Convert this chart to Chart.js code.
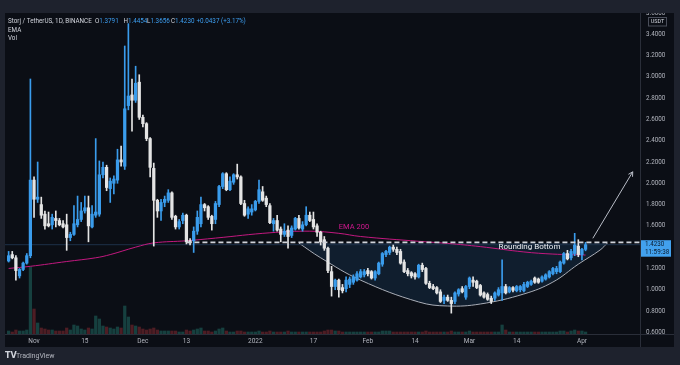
<!DOCTYPE html>
<html>
<head>
<meta charset="utf-8">
<script src="https://cdn.jsdelivr.net/npm/chart.js@4.4.1/dist/chart.umd.min.js"></script>
<style>
  html, body { margin: 0; padding: 0; background: #1e222d; }
  canvas { display: block; }
</style>
</head>
<body>
<canvas id="chart" width="680" height="365"></canvas>
<script>
// STORJ / USDT daily candles, 2021-10-25 .. 2022-04-02
var open = [
  1.27, 1.33, 1.30, 1.13, 1.19, 1.25, 1.32,
  2.03, 1.85, 1.80, 1.71, 1.62, 1.61, 1.67, 1.65, 1.62, 1.61, 1.49, 1.52, 1.61, 1.66, 1.74, 1.77, 1.59, 1.70, 1.71, 2.08,
  2.15, 1.95, 2.00, 2.03, 2.22, 2.16, 2.73, 2.83, 2.78, 2.95,
  2.62, 2.56, 2.42, 2.14, 1.84, 1.74, 1.82, 1.84, 1.91, 1.69, 1.59, 1.65, 1.70, 1.46, 1.46, 1.55, 1.62, 1.80, 1.78, 1.69,
  1.66, 1.80, 1.97, 2.09, 1.94, 2.01, 2.08, 2.06, 1.81, 1.71, 1.73,
  1.75, 1.83, 1.92, 1.86, 1.79, 1.62, 1.65, 1.57, 1.52, 1.56, 1.51, 1.57, 1.67, 1.57, 1.61, 1.70, 1.66, 1.60, 1.54, 1.47,
  1.39, 1.17, 1.03, 1.09, 1.02, 1.01, 1.05, 1.07, 1.09, 1.12, 1.14,
  1.18, 1.17, 1.11, 1.15, 1.24, 1.33, 1.35, 1.40, 1.38, 1.36, 1.26, 1.18, 1.16, 1.15, 1.12, 1.23, 1.20, 1.06, 1.03, 1.02,
  0.98, 0.90, 0.93, 0.90, 0.89, 0.96, 1.01, 0.93,
  1.03, 1.09, 1.08, 1.04, 0.97, 0.955, 0.92, 0.92, 0.95, 0.97, 1.03, 0.98, 1.02, 0.99, 1.00, 0.99, 1.03, 1.05, 1.11, 1.10,
  1.08, 1.10, 1.12, 1.15, 1.17, 1.17, 1.25, 1.34, 1.30, 1.34, 1.41,
  1.33, 1.3791
];
var high = [
  1.36, 1.36, 1.32, 1.20, 1.26, 1.34, 2.98,
  2.06, 2.20, 1.87, 1.74, 1.73, 1.71, 1.74, 1.67, 1.65, 1.71, 1.54, 1.79, 1.88, 1.82, 1.88, 1.88, 1.79, 2.42, 2.21, 2.20,
  2.17, 2.05, 2.07, 2.32, 2.35, 3.29, 3.50, 2.98, 3.10, 3.02,
  2.64, 2.57, 2.43, 2.19, 1.85, 1.85, 1.88, 1.94, 1.92, 1.70, 1.66, 1.72, 1.71, 1.48, 1.59, 1.74, 1.87, 1.81, 1.79, 1.70,
  1.83, 1.98, 2.10, 2.10, 2.06, 2.09, 2.18, 2.07, 1.84, 1.78, 1.80,
  1.84, 2.03, 1.97, 1.88, 1.81, 1.67, 1.70, 1.59, 1.62, 1.60, 1.60, 1.68, 1.70, 1.64, 1.78, 1.73, 1.73, 1.62, 1.55, 1.50,
  1.40, 1.22, 1.10, 1.10, 1.05, 1.12, 1.12, 1.14, 1.17, 1.19, 1.19,
  1.20, 1.18, 1.18, 1.26, 1.35, 1.37, 1.41, 1.42, 1.40, 1.38, 1.28, 1.20, 1.17, 1.16, 1.24, 1.25, 1.21, 1.08, 1.05, 1.03,
  1.00, 0.95, 0.95, 0.93, 0.98, 1.01, 1.03, 1.04,
  1.12, 1.12, 1.09, 1.05, 0.98, 0.97, 0.94, 0.98, 1.02, 1.28, 1.05, 1.03, 1.03, 1.04, 1.04, 1.07, 1.08, 1.09, 1.12, 1.11,
  1.13, 1.15, 1.18, 1.21, 1.22, 1.27, 1.35, 1.37, 1.38, 1.53, 1.47,
  1.39, 1.4454
];
var low = [
  1.26, 1.29, 1.09, 1.11, 1.18, 1.24, 1.30,
  1.68, 1.82, 1.67, 1.57, 1.59, 1.57, 1.59, 1.60, 1.58, 1.37, 1.46, 1.51, 1.59, 1.64, 1.72, 1.45, 1.58, 1.68, 1.69, 2.05,
  1.93, 1.82, 1.90, 2.00, 2.16, 2.13, 2.69, 2.49, 2.76, 2.60,
  2.53, 2.40, 2.06, 1.41, 1.68, 1.65, 1.78, 1.82, 1.66, 1.57, 1.57, 1.62, 1.43, 1.42, 1.35, 1.52, 1.59, 1.74, 1.66, 1.56,
  1.62, 1.78, 1.95, 1.93, 1.93, 1.99, 2.04, 1.80, 1.69, 1.67, 1.70,
  1.74, 1.81, 1.83, 1.78, 1.62, 1.55, 1.55, 1.45, 1.50, 1.39, 1.49, 1.56, 1.57, 1.55, 1.60, 1.64, 1.57, 1.50, 1.42, 1.37,
  1.16, 0.94, 1.00, 0.93, 0.97, 0.98, 1.02, 1.05, 1.08, 1.11, 1.12,
  1.13, 1.10, 1.09, 1.14, 1.22, 1.31, 1.33, 1.36, 1.33, 1.24, 1.16, 1.13, 1.11, 1.10, 1.11, 1.17, 1.05, 1.01, 1.00, 0.96,
  0.88, 0.87, 0.89, 0.78, 0.87, 0.94, 0.97, 0.91,
  1.01, 1.03, 1.01, 0.94, 0.92, 0.90, 0.87, 0.90, 0.94, 0.90, 0.96, 0.97, 0.98, 0.98, 0.98, 0.98, 1.02, 1.04, 1.06, 1.06,
  1.07, 1.09, 1.11, 1.14, 1.15, 1.16, 1.24, 1.28, 1.28, 1.32, 1.31,
  1.28, 1.3656
];
var close = [
  1.32, 1.30, 1.18, 1.19, 1.25, 1.32, 2.03,
  1.85, 1.87, 1.70, 1.60, 1.60, 1.68, 1.65, 1.61, 1.59, 1.49, 1.52, 1.62, 1.66, 1.74, 1.77, 1.60, 1.71, 1.73, 2.08, 2.15,
  1.96, 2.02, 2.04, 2.22, 2.20, 2.70, 2.82, 2.78, 2.94, 2.62,
  2.56, 2.42, 2.15, 1.84, 1.74, 1.82, 1.85, 1.91, 1.68, 1.59, 1.64, 1.70, 1.45, 1.44, 1.55, 1.68, 1.80, 1.77, 1.68, 1.62,
  1.81, 1.97, 2.09, 1.94, 2.02, 2.08, 2.06, 1.81, 1.70, 1.76, 1.76,
  1.83, 1.94, 1.84, 1.80, 1.63, 1.65, 1.56, 1.52, 1.55, 1.50, 1.58, 1.67, 1.58, 1.61, 1.70, 1.65, 1.59, 1.54, 1.45, 1.39,
  1.18, 1.03, 1.09, 1.00, 0.99, 1.09, 1.10, 1.12, 1.15, 1.17, 1.17,
  1.15, 1.11, 1.17, 1.25, 1.34, 1.36, 1.40, 1.38, 1.35, 1.25, 1.17, 1.15, 1.13, 1.12, 1.23, 1.19, 1.06, 1.02, 1.01, 0.97,
  0.89, 0.93, 0.90, 0.87, 0.97, 1.00, 0.98, 1.03,
  1.11, 1.07, 1.02, 0.95, 0.93, 0.91, 0.89, 0.97, 1.00, 1.03, 0.97, 1.02, 0.995, 1.03, 1.03, 1.05, 1.07, 1.08, 1.07, 1.07,
  1.12, 1.14, 1.17, 1.20, 1.20, 1.26, 1.34, 1.29, 1.36, 1.42, 1.33,
  1.3793, 1.4230
];
// volume, relative units (bar heights as seen)
var volume = [
  3, 2, 4, 3, 3, 4, 67,
  25, 11, 6, 5, 4, 4, 3, 3, 3, 6, 4, 9, 8, 5, 4, 6, 5, 18, 15, 8, 7, 6, 5, 7, 6, 28, 17, 9, 8, 7,
  5, 4, 5, 6, 4, 3, 3, 3, 3, 3, 2, 2, 4, 3, 4, 5, 6, 3, 3, 2, 3, 5, 6, 3, 2, 2, 3, 3, 2, 2, 2,
  2, 3, 2, 2, 3, 2, 2, 2, 2, 3, 2, 2, 2, 2, 2, 2, 2, 2, 2, 3, 4, 4, 3, 3, 2, 2, 2, 2, 2, 2, 2,
  2, 2, 2, 2, 3, 3, 3, 2, 2, 2, 2, 2, 2, 2, 2, 2, 3, 2, 2, 2, 2, 2, 2, 3, 2, 2, 2, 2,
  3, 2, 2, 2, 2, 2, 2, 2, 2, 9, 4, 2, 2, 2, 2, 2, 2, 2, 2, 2, 2, 2, 2, 2, 2, 3, 3, 2, 3, 4, 3,
  3, 2
];

// EMA 200 as read at a few dates
var emaDates = ['2021-10-25', '2021-10-31', '2021-11-10', '2021-11-18', '2021-11-22', '2021-11-29', '2021-12-04',
  '2021-12-13', '2021-12-21', '2022-01-05', '2022-01-16', '2022-01-24', '2022-01-30', '2022-02-15', '2022-02-23',
  '2022-03-04', '2022-03-16', '2022-03-24', '2022-04-02'];
var emaValues = [1.20, 1.22, 1.265, 1.30, 1.33, 1.40, 1.44, 1.46, 1.485, 1.535, 1.55, 1.53, 1.50, 1.455, 1.435,
  1.405, 1.355, 1.335, 1.326];

// drawn "rounding bottom" arc
var arcDates = ['2022-01-13', '2022-01-19', '2022-01-30', '2022-02-15', '2022-02-23', '2022-03-04', '2022-03-16',
  '2022-03-24', '2022-03-31', '2022-04-06', '2022-04-08'];
var arcValues = [1.438, 1.30, 1.09, 0.885, 0.847, 0.866, 0.96, 1.072, 1.24, 1.373, 1.438];
var arcTop = 1.438;

var necklineStart = '2021-12-13';
var necklineValue = 1.445;
var arrowDates = ['2022-04-04', '2022-04-15'];
var arrowValues = [1.483, 2.108];
var lastPrice = 1.4230;

var yTicks = [0.6, 0.8, 1.0, 1.2, 1.4, 1.6, 1.8, 2.0, 2.2, 2.4, 2.6, 2.8, 3.0, 3.2, 3.4, 3.6];
var xTickDates = ['2021-11-01', '2021-11-15', '2021-12-01', '2021-12-13', '2022-01-01', '2022-01-17',
  '2022-02-01', '2022-02-14', '2022-03-01', '2022-03-14', '2022-04-01'];
var xTickText = ['Nov', '15', 'Dec', '13', '2022', '17', 'Feb', '14', 'Mar', '14', 'Apr'];

// one label per day, Oct 24 to Apr 17 (right side left empty like the chart)
var labels = [];
for (var k = 0; k < 176; k++) {
  labels.push(new Date(Date.UTC(2021, 9, 24) + k * 86400000).toISOString().slice(0, 10));
}
var candleDates = labels.slice(1, 1 + close.length);
var last = labels[labels.length - 1];

var UP = '#3a9cec', DOWN = '#e4e4e4';
var isUp = close.map(function(c, i) { return c >= open[i]; });

function pts(dates, vals) {
  return dates.map(function(d, i) { return { x: d, y: vals[i] }; });
}

var frame = {
  id: 'frame',
  beforeDraw: function(chart) {
    var c = chart.ctx;
    c.save();
    c.fillStyle = '#1e222d';
    c.fillRect(0, 0, 680, 365);
    c.fillStyle = '#0b0e15';
    c.fillRect(5, 13, 669, 334);
    c.restore();
  },
  afterDatasetsDraw: function(chart) {
    // arrow head
    var meta = chart.getDatasetMeta(7);
    var a = meta.data[0], b = meta.data[1];
    var ang = Math.atan2(b.y - a.y, b.x - a.x);
    var c = chart.ctx;
    c.save();
    c.strokeStyle = '#b8bcc6';
    c.lineWidth = 1;
    c.beginPath();
    c.moveTo(b.x - 5 * Math.cos(ang - 0.5), b.y - 5 * Math.sin(ang - 0.5));
    c.lineTo(b.x, b.y);
    c.lineTo(b.x - 5 * Math.cos(ang + 0.5), b.y - 5 * Math.sin(ang + 0.5));
    c.stroke();
    c.restore();
  },
  afterDraw: function(chart) {
    var c = chart.ctx, xs = chart.scales.x, ys = chart.scales.y, area = chart.chartArea;
    c.save();
    // clip overflow with the outer frame
    c.fillStyle = '#1e222d';
    c.fillRect(0, 0, 680, 13);
    c.fillRect(0, 347, 680, 18);
    c.fillRect(0, 0, 5, 365);
    c.fillRect(674, 0, 6, 365);

    // separators
    c.strokeStyle = '#2a2e39';
    c.lineWidth = 1;
    c.beginPath();
    c.moveTo(area.right + 0.5, 13); c.lineTo(area.right + 0.5, 347);
    c.moveTo(5, area.bottom + 0.5); c.lineTo(674, area.bottom + 0.5);
    c.stroke();

    // annotation labels
    c.textBaseline = 'middle';
    c.font = '7.5px Roboto';
    c.fillStyle = '#d2188f';
    c.fillText('EMA 200', xs.getPixelForValue(labels.indexOf('2022-01-24')), ys.getPixelForValue(1.589));
    c.font = '8px Roboto';
    c.fillStyle = '#eceef2';
    c.fillText('Rounding Bottom', xs.getPixelForValue(labels.indexOf('2022-03-09')), ys.getPixelForValue(1.40));

    // header
    c.font = '6.3px Roboto';
    var hy = 21;
    function t(s, x, col) { c.fillStyle = col; c.fillText(s, x, hy); return x + c.measureText(s).width; }
    t('Storj / TetherUS, 1D, BINANCE', 8, '#d1d4dc');
    var blue = '#3d9ef0', grey = '#d1d4dc';
    t('1.3791', t('O', 95, grey), blue);
    t('1.4454', t('H', 123.5, grey), blue);
    t('1.3656', t('L', 147, grey), blue);
    t('1.4230', t('C', 171, grey), blue);
    t('+0.0437 (+3.17%)', 196.5, blue);
    c.fillStyle = '#d1d4dc';
    c.fillText('EMA', 8, 30);
    c.fillText('Vol', 8, 38.5);

    // currency box
    c.strokeStyle = '#4a4e5a';
    c.strokeRect(648.5, 17.5, 18, 8.5);
    c.font = '5.5px Roboto';
    c.fillStyle = '#d1d4dc';
    c.textAlign = 'center';
    c.fillText('USDT', 657.5, 22);

    // last price tag
    var py = ys.getPixelForValue(lastPrice);
    c.fillStyle = '#42a1ee';
    c.fillRect(area.right + 1, py - 4.5, 30, 16.5);
    c.textAlign = 'left';
    c.font = '6.3px Roboto';
    c.fillStyle = '#0c1a2c';
    c.fillText(lastPrice.toFixed(4), area.right + 5, py);
    c.fillText('11:59:38', area.right + 5, py + 8);

    // footer logo
    c.font = 'bold 8px "DejaVu Sans"';
    c.fillStyle = '#d1d4dc';
    c.fillText('TV', 5, 356);
    c.font = '7px Roboto';
    c.fillStyle = '#b2b5be';
    c.fillText('TradingView', 16, 356);
    c.restore();
  }
};

new Chart(document.getElementById('chart'), {
  type: 'bar',
  data: {
    labels: labels,
    datasets: [
      {
        label: 'Body', order: 4, grouped: false, barThickness: 2.6,
        data: candleDates.map(function(d, i) { return { x: d, y: [open[i], close[i]] }; }),
        backgroundColor: isUp.map(function(u) { return u ? UP : DOWN; }),
        borderWidth: 0
      },
      {
        label: 'Wick', order: 5, grouped: false, barThickness: 1,
        data: candleDates.map(function(d, i) { return { x: d, y: [low[i], high[i]] }; }),
        backgroundColor: isUp.map(function(u) { return u ? UP : DOWN; }),
        borderWidth: 0
      },
      {
        label: 'Vol', order: 10, grouped: false, barThickness: 2.6, yAxisID: 'vol',
        data: candleDates.map(function(d, i) { return { x: d, y: volume[i] }; }),
        backgroundColor: isUp.map(function(u) { return u ? '#16403f' : '#4e1d24'; }),
        borderWidth: 0
      },
      {
        type: 'line', label: 'Rounding', order: 9,
        data: pts(arcDates, arcValues),
        borderColor: '#a9adb6', borderWidth: 1, tension: 0.4, pointRadius: 0,
        fill: { value: arcTop }, backgroundColor: 'rgba(40, 95, 150, 0.2)'
      },
      {
        type: 'line', label: 'Last', order: 8,
        data: [{ x: labels[0], y: lastPrice }, { x: last, y: lastPrice }],
        borderColor: '#1d3149', borderWidth: 1, pointRadius: 0
      },
      {
        type: 'line', label: 'EMA', order: 7,
        data: pts(emaDates, emaValues),
        borderColor: '#c2187f', borderWidth: 1, tension: 0.4, pointRadius: 0
      },
      {
        type: 'line', label: 'Neckline', order: 3,
        data: [{ x: necklineStart, y: necklineValue }, { x: last, y: necklineValue }],
        borderColor: '#d0d3da', borderWidth: 1.6, borderDash: [5, 3], pointRadius: 0
      },
      {
        type: 'line', label: 'Arrow', order: 2,
        data: pts(arrowDates, arrowValues),
        borderColor: '#b8bcc6', borderWidth: 1, pointRadius: 0
      }
    ]
  },
  options: {
    responsive: false,
    animation: false,
    events: [],
    layout: { padding: { left: 5, top: 13, right: 6, bottom: 18 } },
    plugins: { legend: { display: false }, tooltip: { enabled: false } },
    scales: {
      x: {
        type: 'category', offset: false,
        grid: { display: false, drawTicks: false }, border: { display: false },
        ticks: {
          autoSkip: false, maxRotation: 0, padding: 3, color: '#b2b5be',
          font: { family: 'Roboto', size: 6.5 },
          callback: function(v) {
            var k = xTickDates.indexOf(labels[v]);
            return k >= 0 ? xTickText[k] : '';
          }
        },
        afterFit: function(s) { s.height = 13; }
      },
      y: {
        position: 'right', min: 0.584, max: 3.6,
        grid: { display: false, drawTicks: false }, border: { display: false },
        ticks: {
          padding: 6, crossAlign: 'near', color: '#b2b5be',
          font: { family: 'Roboto', size: 6.3 },
          callback: function(v) { return Number(v).toFixed(4); }
        },
        afterBuildTicks: function(s) { s.ticks = yTicks.map(function(v) { return { value: v }; }); },
        afterFit: function(s) { s.width = 34; }
      },
      vol: { display: false, min: 0, max: 321 }
    }
  },
  plugins: [frame]
});
</script>
</body>
</html>
